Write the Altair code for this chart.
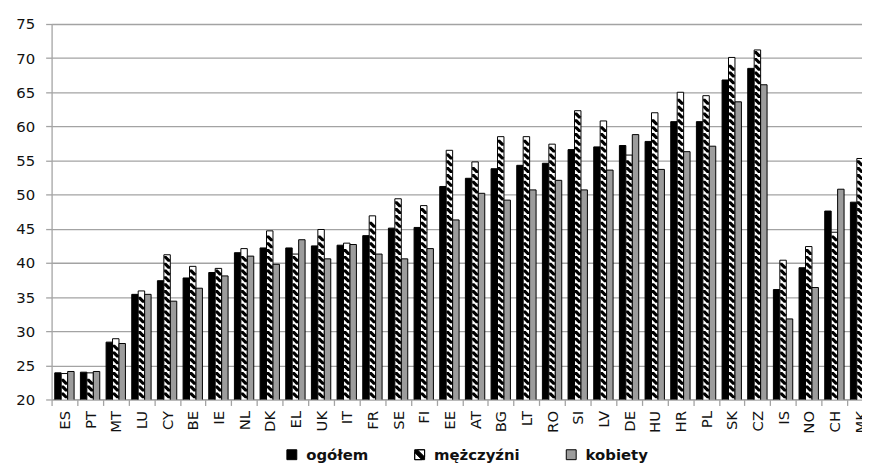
import altair as alt
import pandas as pd

kraje = ["ES", "PT", "MT", "LU", "CY", "BE", "IE", "NL", "DK", "EL", "UK", "IT", "FR", "SE", "FI",
         "EE", "AT", "BG", "LT", "RO", "SI", "LV", "DE", "HU", "HR", "PL", "SK", "CZ", "IS", "NO",
         "CH", "MK"]
ogolem = [23.9, 24.0, 28.4, 35.4, 37.4, 37.8, 38.6, 41.5, 42.2, 42.2, 42.5, 42.6, 44.0, 45.1, 45.2,
          51.2, 52.4, 53.8, 54.3, 54.6, 56.6, 57.0, 57.2, 57.8, 60.7, 60.7, 66.8, 68.5, 36.1, 39.3,
          47.6, 48.9]
mezczyzni = [23.8, 23.9, 28.9, 35.9, 41.2, 39.5, 39.2, 42.1, 44.7, 41.3, 44.9, 42.9, 46.9, 49.4, 48.4,
             56.5, 54.8, 58.5, 58.5, 57.4, 62.3, 60.8, 55.8, 62.0, 65.0, 64.5, 70.1, 71.2, 40.4, 42.4,
             44.5, 55.3]
kobiety = [24.1, 24.1, 28.2, 35.4, 34.4, 36.3, 38.1, 41.0, 39.8, 43.4, 40.6, 42.7, 41.3, 40.6, 42.1,
           46.3, 50.2, 49.2, 50.7, 52.1, 50.7, 53.6, 58.8, 53.7, 56.3, 57.1, 63.6, 66.1, 31.8, 36.4,
           50.8, 42.5]
serie = ["ogółem", "mężczyźni", "kobiety"]
y_ticks = [20, 25, 30, 35, 40, 45, 50, 55, 60, 65, 70, 75]

rows = []
for i, k in enumerate(kraje):
    for s, vals in zip(serie, [ogolem, mezczyzni, kobiety]):
        rows.append({"kraj": k, "seria": s, "wartosc": vals[i]})
df = pd.DataFrame(rows)

FONT = "DejaVu Sans"
GRID = "#a3a3a3"
STRIPE = "M-1,-1L-0.25,-1L1,0.25L1,1L0.25,1L-1,-0.25Z"
LEG_HATCH = ("M-1,-1L1,-1L1,1L-1,1Z"
             "M-0.45,-1L1,0.45L1,-1Z"
             "M-1,-0.45L-1,1L0.45,1Z")

x_enc = alt.X(
    "kraj:N", sort=kraje,
    scale=alt.Scale(range=[0, 829], paddingInner=0, paddingOuter=0),
    axis=alt.Axis(title=None, labelAngle=270, tickBand="extent", tickSize=6,
                  tickColor=GRID, domainColor=GRID, domainWidth=1.3, tickWidth=1.3,
                  labelFont=FONT, labelFontSize=15, labelColor="#111111", labelPadding=5,
                  grid=False),
)
xoff = alt.XOffset("seria:N", sort=serie,
                   scale=alt.Scale(domain=serie, paddingInner=0, paddingOuter=0.49))
y_scale = alt.Scale(domain=[20, 75], nice=False, zero=False)
y_axis = alt.Axis(title=None, values=y_ticks, tickSize=6, tickColor=GRID, tickWidth=1.3,
                  domainColor=GRID, domainWidth=1.3, gridColor=GRID, gridWidth=1.3,
                  labelFont=FONT, labelFontSize=15, labelColor="#111111", labelPadding=11)

legend = alt.Legend(title=None, orient="none", legendX=235, legendY=427, direction="horizontal",
                    symbolSize=100, symbolStrokeWidth=1, symbolStrokeColor="black",
                    symbolOpacity=1, labelFont=FONT, labelFontSize=15, labelFontWeight="bold",
                    labelColor="#111111", columnPadding=44, labelOffset=7, padding=0)

# legend-only layer: its points are pushed below the plot area and clipped away
leg_layer = alt.Chart(df).mark_point(filled=True, size=100, yOffset=420, opacity=1,
                                     fillOpacity=1, clip=True, strokeWidth=1).encode(
    x=x_enc, xOffset=xoff,
    y=alt.Y("wartosc:Q", scale=y_scale, axis=y_axis),
    fill=alt.Fill("seria:N", sort=serie,
                  scale=alt.Scale(domain=serie, range=["#000000", "#000000", "#9c9c9c"]),
                  legend=legend),
    stroke=alt.Stroke("seria:N", sort=serie,
                      scale=alt.Scale(domain=serie, range=["#000000", "#000000", "#000000"]),
                      legend=legend),
    shape=alt.Shape("seria:N", sort=serie,
                    scale=alt.Scale(domain=serie, range=["square", LEG_HATCH, "square"]),
                    legend=legend),
)

bars = alt.Chart(df).mark_bar(stroke="black", strokeWidth=1, clip=True).encode(
    x=x_enc, xOffset=xoff,
    y=alt.Y("wartosc:Q", scale=y_scale, axis=y_axis),
    color=alt.Color("seria:N", sort=serie,
                    scale=alt.Scale(domain=serie, range=["#000000", "#ffffff", "#9c9c9c"]),
                    legend=None),
)

stripes = alt.Chart(df).transform_filter(
    alt.datum.seria == "mężczyźni"
).transform_calculate(
    pas="sequence(20.6, datum.wartosc - 0.5, 1)"
).transform_flatten(["pas"]).mark_point(
    shape=STRIPE, filled=True, color="black", size=36, strokeWidth=0, opacity=1, clip=True
).encode(
    x=x_enc, xOffset=xoff,
    y=alt.Y("pas:Q", scale=y_scale, axis=y_axis),
)

chart = alt.layer(leg_layer, bars, stripes).properties(
    width=818, height=379,
    autosize=alt.AutoSizeParams(type="none"),
    padding={"left": 44, "top": 14, "right": 0, "bottom": 66},
).configure_view(stroke=None)

chart.save("out.html", embed_options={"renderer": "svg", "actions": False})
